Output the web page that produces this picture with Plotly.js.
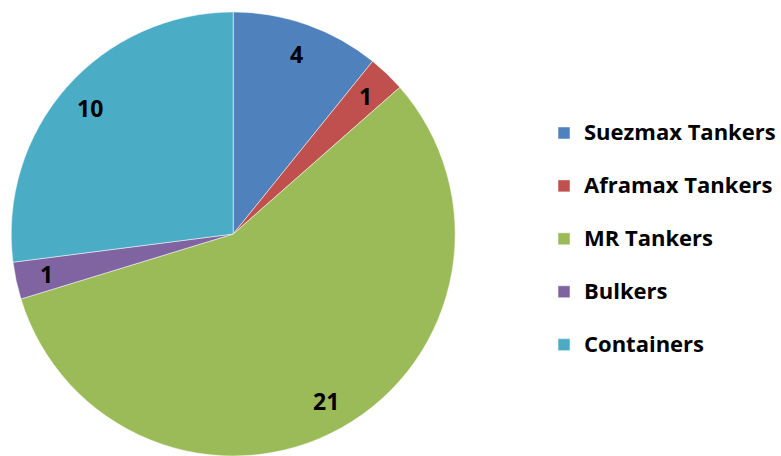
<!DOCTYPE html>
<html><head><meta charset="utf-8">
<script src="https://cdn.plot.ly/plotly-3.0.1.min.js"></script>
<style>html,body{margin:0;padding:0;background:#fff;}#chart{width:781px;height:456px;}</style>
</head><body><div id="chart"></div>
<script>
const categories = ["Suezmax Tankers", "Aframax Tankers", "MR Tankers", "Bulkers", "Containers"];
const values = [4, 1, 21, 1, 10];
const colors = ["#4F81BD", "#C0504D", "#9BBB59", "#8064A2", "#4BACC6"];

const W = 781, H = 456;
const domX = [10 / W, 457 / W];
const domY = [0, 1 - 12 / H];

// label positions derived from the data (mid-angle of each slice)
const total = values.reduce((a, b) => a + b, 0);
const pw = (domX[1] - domX[0]) * W, ph = (domY[1] - domY[0]) * H;
const R = Math.min(pw, ph) / 2;
const cx = (domX[0] + domX[1]) / 2 * W;
const cy = H - (domY[0] + domY[1]) / 2 * H;
let cum = 0;
const annotations = values.map((v) => {
  const mid = (cum + v / 2) / total * 2 * Math.PI;
  cum += v;
  const px = cx + 0.86 * R * Math.sin(mid);
  const py = cy - 0.86 * R * Math.cos(mid);
  return {
    x: px / W, y: 1 - py / H, xref: 'paper', yref: 'paper',
    text: String(v), showarrow: false, xanchor: 'center', yanchor: 'middle',
    font: {family: 'Open Sans', size: 23, color: '#000', weight: 'bold'}
  };
});

const trace = {
  type: 'pie',
  labels: categories.map(c => '<span style="font-size:22px">' + c + '</span><br> '),
  values: values,
  sort: false,
  direction: 'clockwise',
  rotation: 0,
  textinfo: 'none',
  hoverinfo: 'label+value',
  marker: {colors: colors, line: {color: 'rgba(255,255,255,0.5)', width: 1}},
  domain: {x: domX, y: domY}
};

const layout = {
  width: W, height: H,
  margin: {l: 0, r: 0, t: 0, b: 0},
  paper_bgcolor: '#fff',
  showlegend: true,
  legend: {
    x: 545 / W, y: 1 - 114 / H, xanchor: 'left', yanchor: 'top',
    valign: 'top',
    font: {family: 'Open Sans', size: 19.2, color: '#000', weight: 'bold'},
    bgcolor: 'rgba(0,0,0,0)', itemclick: false
  },
  annotations: annotations
};

Plotly.newPlot('chart', [trace], layout, {displayModeBar: false, staticPlot: true});
</script></body></html>
